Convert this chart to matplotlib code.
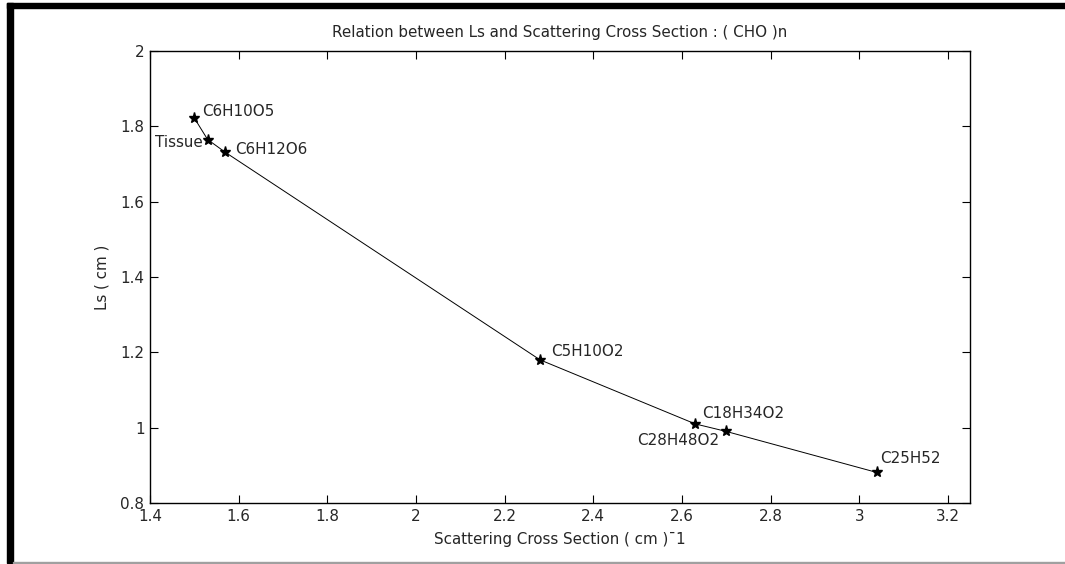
import matplotlib
matplotlib.use("Agg")
import matplotlib.pyplot as plt
from matplotlib.patches import Rectangle

plt.rcParams['font.family'] = ['DejaVu Sans']

# Data
compounds = ["C6H10O5", "Tissue", "C6H12O6", "C5H10O2", "C18H34O2", "C28H48O2", "C25H52"]
cross_section = [1.50, 1.53, 1.57, 2.28, 2.63, 2.70, 3.04]   # (cm)^-1
ls_values = [1.822, 1.765, 1.731, 1.18, 1.01, 0.99, 0.881]   # cm

x_ticks = [1.4, 1.6, 1.8, 2.0, 2.2, 2.4, 2.6, 2.8, 3.0, 3.2]
x_tick_labels = ["1.4", "1.6", "1.8", "2", "2.2", "2.4", "2.6", "2.8", "3", "3.2"]
y_ticks = [0.8, 1.0, 1.2, 1.4, 1.6, 1.8, 2.0]
y_tick_labels = ["0.8", "1", "1.2", "1.4", "1.6", "1.8", "2"]

# label placement (offset in points, horizontal alignment)
label_offsets = [(5.5, 5), (-3.6, -2.2), (7.2, 1.9), (7.9, 6.0), (4.8, 7.4), (-5.3, -6.5), (2.2, 9.9)]
label_align = ["left", "right", "left", "left", "left", "right", "left"]

FS = 10.9
TXT = "#262626"
W, H = 1065, 564
fig = plt.figure(figsize=(W / 100, H / 100), dpi=100)

# black frame pieces of the screenshot
fig.patches.append(Rectangle((7 / W, (H - 8) / H), (W - 7) / W, 5 / H,
                             transform=fig.transFigure, color="black", zorder=0))
fig.patches.append(Rectangle((7 / W, 1 / H), 6 / W, (H - 4) / H,
                             transform=fig.transFigure, color="black", zorder=0))
fig.patches.append(Rectangle((13 / W, 1 / H), (W - 13) / W, 1.2 / H,
                             transform=fig.transFigure, color="#a0a0a0", zorder=0))

ax = fig.add_axes([150 / W, (H - 503) / H, 820 / W, 452 / H])
ax.plot(cross_section, ls_values, color="black", linewidth=0.7,
        marker="*", markersize=8, markerfacecolor="black", markeredgecolor="black")

for name, x, y, off, ha in zip(compounds, cross_section, ls_values, label_offsets, label_align):
    ax.annotate(name, (x, y), xytext=off, textcoords="offset points",
                ha=ha, va="center", fontsize=FS, color=TXT)

ax.set_xlim(1.4, 3.25)
ax.set_ylim(0.8, 2.0)
ax.set_xticks(x_ticks)
ax.set_xticklabels(x_tick_labels)
ax.set_yticks(y_ticks)
ax.set_yticklabels(y_tick_labels)
ax.tick_params(direction="in", length=6, width=0.8, top=True, right=True,
               labelsize=FS, pad=4, color="black", labelcolor=TXT)
for s in ax.spines.values():
    s.set_linewidth(1.0)

ax.set_title("Relation between Ls and Scattering Cross Section : ( CHO )n", fontsize=FS, pad=10, color=TXT)
ax.set_xlabel("Scattering Cross Section ( cm )ˉ1", fontsize=FS, labelpad=6, color=TXT)
ax.set_ylabel("Ls ( cm )", fontsize=FS, labelpad=8, color=TXT)

fig.savefig("out.png", dpi=100)
